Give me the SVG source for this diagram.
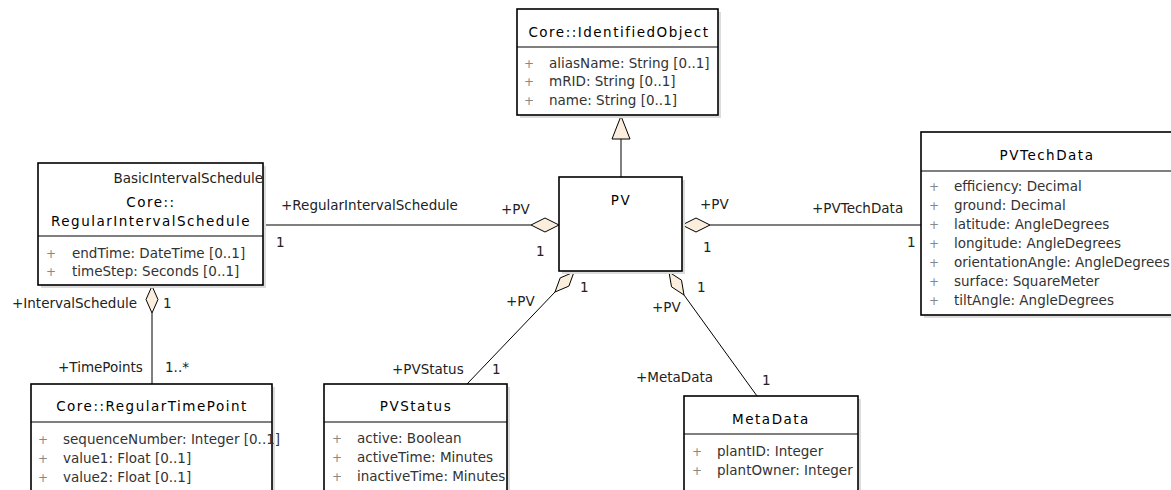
<svg xmlns="http://www.w3.org/2000/svg" width="1171" height="490" viewBox="0 0 1171 490">
  <style>
    .box { fill: #ffffff; stroke: #000000; stroke-width: 1.6; }
    .shadow { fill: #dcdcdc; }
    .sep { stroke: #000000; stroke-width: 1.2; }
    .hdr { font-family: "DejaVu Sans", sans-serif; font-size: 13.5px; letter-spacing: 1.5px; fill: #000000; text-anchor: middle; }
    .attr { font-family: "DejaVu Sans", sans-serif; font-size: 13.5px; fill: #333333; }
    .vis { font-family: "DejaVu Sans", sans-serif; font-size: 12px; fill: #888888; text-anchor: middle; }
    .lbl { font-family: "DejaVu Sans", sans-serif; font-size: 13.5px; fill: #222222; }
    .line { stroke: #000000; stroke-width: 1; fill: none; }
    .head { fill: #fbeedc; stroke: #000000; stroke-width: 1; }
  </style>

  <!-- associations and generalization -->
  <g id="connectors">
    <!-- PV specializes Core::IdentifiedObject -->
    <line class="line" x1="621" y1="177" x2="621" y2="139"/>
    <polygon class="head" points="621,116 630,139 612,139"/>

    <!-- RegularIntervalSchedule - PV -->
    <line class="line" x1="263" y1="225" x2="531" y2="225"/>
    <polygon class="head" points="531,225 545,218 559,225 545,232"/>
    <text class="lbl" x="281" y="210">+RegularIntervalSchedule</text>
    <text class="lbl" x="501" y="214">+PV</text>
    <text class="lbl" x="276" y="247">1</text>
    <text class="lbl" x="536" y="256">1</text>

    <!-- PV - PVTechData -->
    <line class="line" x1="710" y1="225" x2="921" y2="225"/>
    <polygon class="head" points="682,225 696,218 710,225 696,232"/>
    <text class="lbl" x="700" y="209">+PV</text>
    <text class="lbl" x="703" y="252">1</text>
    <text class="lbl" x="812" y="213">+PVTechData</text>
    <text class="lbl" x="907" y="247">1</text>

    <!-- PV - PVStatus -->
    <line class="line" x1="555" y1="292" x2="467" y2="384"/>
    <polygon class="head" points="574,272 568.9,286.1 555,292 560.2,277.9"/>
    <text class="lbl" x="506" y="306">+PV</text>
    <text class="lbl" x="580" y="292">1</text>
    <text class="lbl" x="392" y="374">+PVStatus</text>
    <text class="lbl" x="492" y="374">1</text>

    <!-- PV - MetaData -->
    <line class="line" x1="684" y1="295" x2="757" y2="396"/>
    <polygon class="head" points="669,272 681.5,280.2 684,295 671.5,286.8"/>
    <text class="lbl" x="652" y="312">+PV</text>
    <text class="lbl" x="697" y="292">1</text>
    <text class="lbl" x="636" y="382">+MetaData</text>
    <text class="lbl" x="762" y="385">1</text>

    <!-- RegularIntervalSchedule - RegularTimePoint -->
    <line class="line" x1="152" y1="313" x2="152" y2="384"/>
    <polygon class="head" points="152,286 158,299.5 152,313 146,299.5"/>
    <text class="lbl" x="12" y="308">+IntervalSchedule</text>
    <text class="lbl" x="163" y="308">1</text>
    <text class="lbl" x="58" y="372">+TimePoints</text>
    <text class="lbl" x="165" y="372">1..*</text>
  </g>

  <!-- Core::IdentifiedObject -->
  <g id="identified-object">
    <rect class="shadow" x="520" y="12" width="201" height="106"/>
    <rect class="box" x="517" y="9" width="201" height="106"/>
    <line class="sep" x1="517" y1="47" x2="718" y2="47"/>
    <text class="hdr" x="619" y="37">Core::IdentifiedObject</text>
    <text class="vis" x="529" y="68">+</text>
    <text class="attr" x="549" y="68">aliasName: String [0..1]</text>
    <text class="vis" x="529" y="86">+</text>
    <text class="attr" x="549" y="86">mRID: String [0..1]</text>
    <text class="vis" x="529" y="105">+</text>
    <text class="attr" x="549" y="105">name: String [0..1]</text>
  </g>

  <!-- PV -->
  <g id="pv">
    <rect class="shadow" x="562" y="180" width="123" height="94"/>
    <rect class="box" x="559" y="177" width="123" height="94"/>
    <text class="hdr" x="621" y="205">PV</text>
  </g>

  <!-- Core::RegularIntervalSchedule -->
  <g id="regular-interval-schedule">
    <rect class="shadow" x="41" y="166" width="225" height="122"/>
    <rect class="box" x="38" y="163" width="225" height="122"/>
    <line class="sep" x1="38" y1="236" x2="263" y2="236"/>
    <text class="lbl" x="263" y="183" text-anchor="end" fill="#000000">BasicIntervalSchedule</text>
    <text class="hdr" x="151" y="207">Core::</text>
    <text class="hdr" x="151" y="226">RegularIntervalSchedule</text>
    <text class="vis" x="51" y="258">+</text>
    <text class="attr" x="72" y="258">endTime: DateTime [0..1]</text>
    <text class="vis" x="51" y="276">+</text>
    <text class="attr" x="72" y="276">timeStep: Seconds [0..1]</text>
  </g>

  <!-- Core::RegularTimePoint -->
  <g id="regular-time-point">
    <rect class="shadow" x="34" y="387" width="241" height="110"/>
    <rect class="box" x="31" y="384" width="241" height="110"/>
    <line class="sep" x1="31" y1="422" x2="272" y2="422"/>
    <text class="hdr" x="152" y="411">Core::RegularTimePoint</text>
    <text class="vis" x="43" y="444">+</text>
    <text class="attr" x="63" y="444">sequenceNumber: Integer [0..1]</text>
    <text class="vis" x="43" y="463">+</text>
    <text class="attr" x="63" y="463">value1: Float [0..1]</text>
    <text class="vis" x="43" y="482">+</text>
    <text class="attr" x="63" y="482">value2: Float [0..1]</text>
  </g>

  <!-- PVStatus -->
  <g id="pv-status">
    <rect class="shadow" x="327" y="387" width="183" height="110"/>
    <rect class="box" x="324" y="384" width="183" height="110"/>
    <line class="sep" x1="324" y1="422" x2="507" y2="422"/>
    <text class="hdr" x="416" y="411">PVStatus</text>
    <text class="vis" x="337" y="443">+</text>
    <text class="attr" x="357" y="443">active: Boolean</text>
    <text class="vis" x="337" y="462">+</text>
    <text class="attr" x="357" y="462">activeTime: Minutes</text>
    <text class="vis" x="337" y="481">+</text>
    <text class="attr" x="357" y="481">inactiveTime: Minutes</text>
  </g>

  <!-- MetaData -->
  <g id="meta-data">
    <rect class="shadow" x="687" y="399" width="174" height="100"/>
    <rect class="box" x="684" y="396" width="174" height="100"/>
    <line class="sep" x1="684" y1="434" x2="858" y2="434"/>
    <text class="hdr" x="771" y="424">MetaData</text>
    <text class="vis" x="697" y="456">+</text>
    <text class="attr" x="717" y="456">plantID: Integer</text>
    <text class="vis" x="697" y="475">+</text>
    <text class="attr" x="717" y="475">plantOwner: Integer</text>
  </g>

  <!-- PVTechData -->
  <g id="pv-tech-data">
    <rect class="shadow" x="924" y="135" width="252" height="183"/>
    <rect class="box" x="921" y="132" width="252" height="183"/>
    <line class="sep" x1="921" y1="171" x2="1173" y2="171"/>
    <text class="hdr" x="1047" y="160">PVTechData</text>
    <text class="vis" x="934" y="191">+</text>
    <text class="attr" x="954" y="191">efficiency: Decimal</text>
    <text class="vis" x="934" y="210">+</text>
    <text class="attr" x="954" y="210">ground: Decimal</text>
    <text class="vis" x="934" y="229">+</text>
    <text class="attr" x="954" y="229">latitude: AngleDegrees</text>
    <text class="vis" x="934" y="248">+</text>
    <text class="attr" x="954" y="248">longitude: AngleDegrees</text>
    <text class="vis" x="934" y="267">+</text>
    <text class="attr" x="954" y="267">orientationAngle: AngleDegrees</text>
    <text class="vis" x="934" y="286">+</text>
    <text class="attr" x="954" y="286">surface: SquareMeter</text>
    <text class="vis" x="934" y="305">+</text>
    <text class="attr" x="954" y="305">tiltAngle: AngleDegrees</text>
  </g>
</svg>
